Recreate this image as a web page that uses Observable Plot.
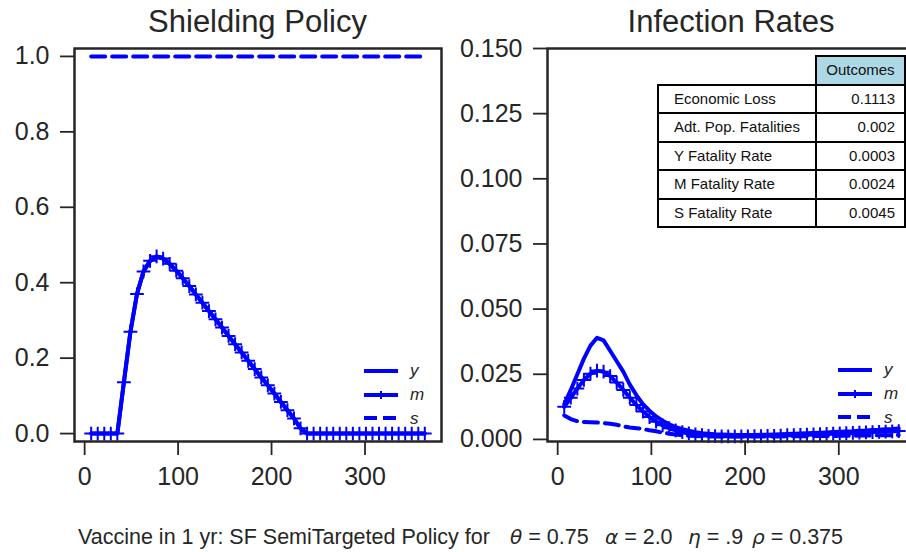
<!DOCTYPE html>
<html>
<head>
<meta charset="utf-8">
<script src="https://cdn.jsdelivr.net/npm/d3@7"></script>
<script src="https://cdn.jsdelivr.net/npm/@observablehq/plot@0.6"></script>
<style>
  html, body { margin: 0; padding: 0; background: #fff; }
  #chart { position: relative; width: 906px; height: 552px; overflow: hidden; background: #fff;
           font-family: "Liberation Sans", Arial, sans-serif; color: #262626; }
  .panel { position: absolute; top: 0; }
  .panel svg { max-width: none !important; }
  .panel svg g[aria-label$="tick"] path { stroke-width: 1.8px; }
  .title { position: absolute; top: 6px; font-size: 31px; line-height: 31px; transform: translateX(-50%); white-space: nowrap; }
  .legend { position: absolute; }
  .legend .row { display: flex; align-items: center; height: 23.7px; }
  .legend svg { display: block; }
  .legend .key { font-style: italic; font-size: 17px; margin-left: 11px; line-height: 17px; }
  table.outcomes { position: absolute; left: 657px; top: 55px; border-collapse: collapse; font-size: 15px; color: #111; }
  table.outcomes td { border: 2px solid #000; height: 26.5px; padding: 0; white-space: nowrap; line-height: 16px; }
  table.outcomes td.label { width: 144px; padding-left: 15px; text-align: left; }
  table.outcomes td.value { width: 82px; padding-right: 9px; text-align: right; }
  table.outcomes td.blank { border: none; }
  table.outcomes td.head { background: #add8e6; text-align: center; padding-right: 0; }
  .caption { position: absolute; top: 524px; font-size: 21.5px; line-height: 26px; white-space: pre; }
  .caption i { font-family: "DejaVu Sans", sans-serif; font-size: 20px; }
</style>
</head>
<body>
<div id="chart"></div>
<script>
// Day of the year at which each weekly value was recorded
const days = [7, 14, 21, 28, 35, 42, 49, 56, 63, 70, 77, 84, 91, 98, 105, 112, 119, 126, 133, 140,
  147, 154, 161, 168, 175, 182, 189, 196, 203, 210, 217, 224, 231, 238, 245, 252, 259, 266, 273, 280,
  287, 294, 301, 308, 315, 322, 329, 336, 343, 350, 357, 364];

// Shielding policy per age group (y = young, m = middle-aged, s = seniors)
const shieldY = [0, 0, 0, 0, 0, 0.136, 0.27, 0.37, 0.43, 0.458, 0.47, 0.464, 0.45, 0.432, 0.412, 0.391,
  0.369, 0.347, 0.325, 0.303, 0.281, 0.259, 0.237, 0.215, 0.193, 0.171, 0.149, 0.128, 0.106, 0.084,
  0.062, 0.04, 0.014, 0, 0, 0, 0, 0, 0, 0, 0, 0, 0, 0, 0, 0, 0, 0, 0, 0, 0, 0];
const shieldM = [0, 0, 0, 0, 0, 0.136, 0.27, 0.37, 0.43, 0.458, 0.47, 0.464, 0.45, 0.432, 0.412, 0.391,
  0.369, 0.347, 0.325, 0.303, 0.281, 0.259, 0.237, 0.215, 0.193, 0.171, 0.149, 0.128, 0.106, 0.084,
  0.062, 0.04, 0.014, 0, 0, 0, 0, 0, 0, 0, 0, 0, 0, 0, 0, 0, 0, 0, 0, 0, 0, 0];
const shieldS = [1, 1, 1, 1, 1, 1, 1, 1, 1, 1, 1, 1, 1, 1, 1, 1, 1, 1, 1, 1, 1, 1, 1, 1, 1, 1,
  1, 1, 1, 1, 1, 1, 1, 1, 1, 1, 1, 1, 1, 1, 1, 1, 1, 1, 1, 1, 1, 1, 1, 1, 1, 1];

// Infection rates per age group
const infY = [0.0135, 0.019, 0.025, 0.031, 0.036, 0.039, 0.038, 0.034, 0.030, 0.026,
  0.021, 0.017, 0.0135, 0.011, 0.0088, 0.0072, 0.0058, 0.0047, 0.0039, 0.0033,
  0.0028, 0.0024, 0.0022, 0.0020, 0.0019, 0.0018, 0.0017, 0.0017, 0.0017, 0.0017,
  0.0018, 0.0018, 0.0019, 0.0020, 0.0021, 0.0022, 0.0023, 0.0024, 0.0025, 0.0026,
  0.0027, 0.0028, 0.0029, 0.0030, 0.0031, 0.0033, 0.0034, 0.0036, 0.0037, 0.0039,
  0.0040, 0.0042];
const infM = [0.0125, 0.016, 0.0195, 0.0228, 0.0252, 0.0264, 0.026, 0.0243, 0.0218, 0.019,
  0.016, 0.0132, 0.0107, 0.0086, 0.0068, 0.0054, 0.0043, 0.0035, 0.0028, 0.0023,
  0.0019, 0.0016, 0.0014, 0.0013, 0.0012, 0.0012, 0.0012, 0.0012, 0.0012, 0.0013,
  0.0013, 0.0014, 0.0014, 0.0015, 0.0016, 0.0016, 0.0017, 0.0018, 0.0019, 0.0020,
  0.0021, 0.0022, 0.0023, 0.0024, 0.0025, 0.0026, 0.0027, 0.0028, 0.0029, 0.0030,
  0.0031, 0.0032];
const infS = [0.0092, 0.0078, 0.0070, 0.0067, 0.0066, 0.0065, 0.0063, 0.0060, 0.0056, 0.0050,
  0.0046, 0.0043, 0.0040, 0.0035, 0.0031, 0.0026, 0.0022, 0.0019, 0.0016, 0.0014,
  0.0013, 0.0012, 0.0011, 0.0011, 0.0011, 0.0011, 0.0011, 0.0011, 0.0011, 0.0011,
  0.0011, 0.0011, 0.0011, 0.0011, 0.0012, 0.0012, 0.0012, 0.0012, 0.0013, 0.0013,
  0.0013, 0.0013, 0.0014, 0.0014, 0.0014, 0.0015, 0.0015, 0.0015, 0.0016, 0.0016,
  0.0016, 0.0017];

// Axis ticks
const xTicks = [0, 100, 200, 300];
const shieldTicks = [0, 0.2, 0.4, 0.6, 0.8, 1.0];
const infTicks = [0, 0.025, 0.05, 0.075, 0.1, 0.125, 0.15];

// Series names and outcome table
const seriesNames = ["y", "m", "s"];
const outcomeLabels = ["Economic Loss", "Adt. Pop. Fatalities", "Y Fatality Rate", "M Fatality Rate", "S Fatality Rate"];
const outcomeValues = ["0.1113", "0.002", "0.0003", "0.0024", "0.0045"];
const outcomeHeader = "Outcomes";

// Caption: policy description followed by the model parameters
const captionText = "Vaccine in 1 yr: SF SemiTargeted Policy for";
const paramSymbols = ["θ", "α", "η", "ρ"];
const paramValues = ["0.75", "2.0", ".9", "0.375"];

const BLUE = "#0000ff";
const INK = "#262626";
const styles = {
  y: {dash: null, marker: false},
  m: {dash: null, marker: true},
  s: {dash: "14,7", marker: false}
};

const rows = (values) => days.map((day, i) => ({day, value: values[i]}));
const [d0, d1] = d3.extent(days);
const pad = (d1 - d0) * 0.05;
const xDomain = [d0 - pad, d1 + pad];

const chart = document.getElementById("chart");

function panel({left, width, marginLeft, marginRight, yDomain, yTicks, yFormat, series}) {
  const marks = [];
  for (const [name, values] of series) {
    const st = styles[name];
    marks.push(Plot.line(rows(values), {x: "day", y: "value", stroke: BLUE, strokeWidth: 4,
      strokeDasharray: st.dash, strokeLinejoin: "round"}));
    if (st.marker) {
      marks.push(Plot.dot(rows(values), {x: "day", y: "value", symbol: "plus", r: 4.5, stroke: BLUE, strokeWidth: 2}));
    }
  }
  marks.push(Plot.frame({stroke: INK, strokeWidth: 2.5}));
  const svg = Plot.plot({
    width, height: 500, marginLeft, marginRight, marginTop: 48, marginBottom: 59,
    style: {fontSize: "25px", fontFamily: '"Liberation Sans", Arial, sans-serif', color: INK, background: "transparent", overflow: "visible"},
    x: {domain: xDomain, ticks: xTicks, tickSize: 14, tickPadding: 12, label: null},
    y: {domain: yDomain, ticks: yTicks, tickFormat: d3.format(yFormat), tickSize: 14, tickPadding: 11, label: null},
    marks
  });
  const wrap = document.createElement("div");
  wrap.className = "panel";
  wrap.style.left = left + "px";
  wrap.style.width = width + "px";
  wrap.appendChild(svg);
  chart.appendChild(wrap);
}

function title(text, cx) {
  const t = document.createElement("div");
  t.className = "title";
  t.style.left = cx + "px";
  t.textContent = text;
  chart.appendChild(t);
}

function legend(left, top) {
  const box = document.createElement("div");
  box.className = "legend";
  box.style.left = left + "px";
  box.style.top = top + "px";
  for (const name of seriesNames) {
    const st = styles[name];
    const row = document.createElement("div");
    row.className = "row";
    const s = d3.create("svg").attr("width", 36).attr("height", 14);
    s.append("line").attr("x1", 1).attr("x2", 35).attr("y1", 7).attr("y2", 7)
      .attr("stroke", BLUE).attr("stroke-width", 4).attr("stroke-dasharray", st.dash ? "13,6" : null);
    if (st.marker) {
      s.append("path").attr("d", "M18,3V11M14,7H22").attr("stroke", BLUE).attr("stroke-width", 2);
    }
    row.appendChild(s.node());
    const k = document.createElement("span");
    k.className = "key";
    k.textContent = name;
    row.appendChild(k);
    box.appendChild(row);
  }
  chart.appendChild(box);
}

// Left: shielding policy
panel({left: 0, width: 460, marginLeft: 74, marginRight: 19, yDomain: [-0.021, 1.021], yTicks: shieldTicks, yFormat: ".1f",
  series: [["y", shieldY], ["m", shieldM], ["s", shieldS]]});
// Right: infection rates (axes run past the right edge of the figure)
panel({left: 460, width: 470, marginLeft: 87, marginRight: 15, yDomain: [-0.0008, 0.15], yTicks: infTicks, yFormat: ".3f",
  series: [["y", infY], ["m", infM], ["s", infS]]});

title("Shielding Policy", 257.5);
title("Infection Rates", 731);
legend(363, 359);
legend(837, 358);

// Outcome table
const table = document.createElement("table");
table.className = "outcomes";
const head = table.insertRow();
head.insertCell().className = "blank";
const hc = head.insertCell();
hc.className = "value head";
hc.textContent = outcomeHeader;
outcomeLabels.forEach((label, i) => {
  const r = table.insertRow();
  const a = r.insertCell(); a.className = "label"; a.textContent = label;
  const b = r.insertCell(); b.className = "value"; b.textContent = outcomeValues[i];
});
chart.appendChild(table);

// Caption
const captionLeft = [78, 510, 605, 688, 752];
const pre = document.createElement("div");
pre.className = "caption";
pre.style.left = captionLeft[0] + "px";
pre.textContent = captionText;
chart.appendChild(pre);
paramSymbols.forEach((sym, i) => {
  const p = document.createElement("div");
  p.className = "caption";
  p.style.left = captionLeft[i + 1] + "px";
  p.innerHTML = `<i>${sym}</i> = ${paramValues[i]}`;
  chart.appendChild(p);
});
</script>
</body>
</html>
